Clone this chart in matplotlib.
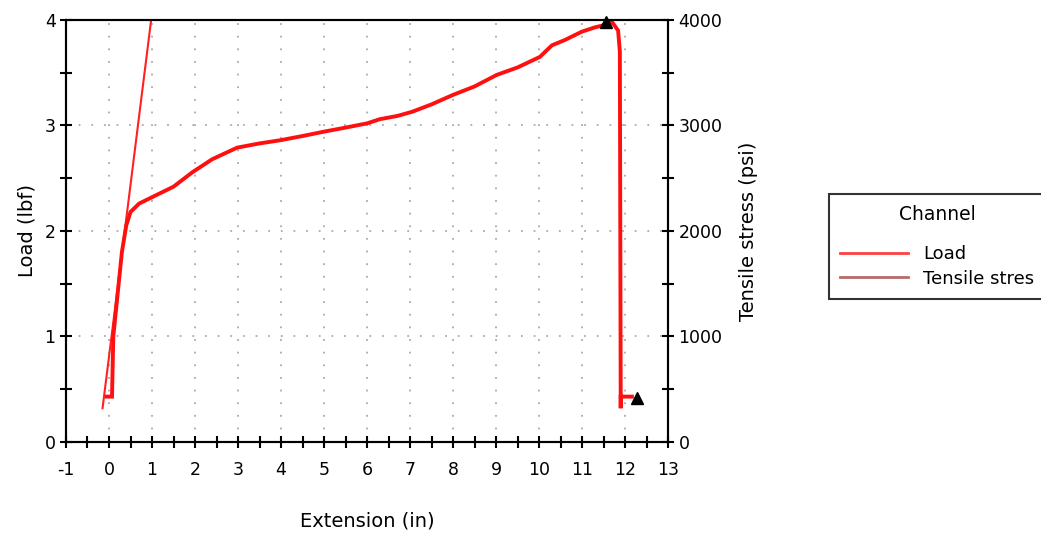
import numpy as np
import matplotlib
matplotlib.use("Agg")
import matplotlib.pyplot as plt
from matplotlib.lines import Line2D
from matplotlib.ticker import MultipleLocator

plt.rcParams['axes.unicode_minus'] = False

# load curve
ext = [-0.05, 0.07, 0.10, 0.20, 0.30, 0.40, 0.50, 0.70, 0.95, 1.20, 1.50, 1.95,
       2.40, 2.98, 3.50, 3.98, 4.50, 4.98, 5.50, 6.00, 6.30, 6.70, 7.05, 7.50,
       8.00, 8.50, 9.02, 9.50, 10.02, 10.30, 10.60, 11.00, 11.30, 11.50, 11.70,
       11.84, 11.88, 11.90, 11.90, 11.90, 12.16]
load = [0.43, 0.43, 1.00, 1.40, 1.80, 2.05, 2.18, 2.26, 2.31, 2.36, 2.42, 2.56,
        2.68, 2.79, 2.83, 2.86, 2.90, 2.94, 2.98, 3.02, 3.06, 3.09, 3.13, 3.20,
        3.29, 3.37, 3.48, 3.55, 3.65, 3.76, 3.81, 3.89, 3.93, 3.95, 3.98,
        3.90, 3.70, 0.40, 0.32, 0.43, 0.43]

# modulus line
mod_x = [-0.15, 0.98]
mod_y = [0.32, 4.0]

# markers
peak_x = [11.55, 12.28]
peak_y = [3.98, 0.42]

fig = plt.figure(figsize=(10.41, 5.36), dpi=100)
ax = fig.add_axes([0.0634, 0.1754, 0.5783, 0.7873])

ax.plot(mod_x, mod_y, color='#ff2020', lw=1.5)
ax.plot(ext, load, color='#ff1010', lw=2.8, solid_joinstyle='miter')
ax.plot(peak_x, peak_y, '^', color='black', ms=9, clip_on=False, zorder=5)

ax.set_xlim(-1, 13)
ax.set_ylim(0, 4)
ax.xaxis.set_major_locator(MultipleLocator(1))
ax.xaxis.set_minor_locator(MultipleLocator(0.5))
ax.yaxis.set_major_locator(MultipleLocator(1))
ax.yaxis.set_minor_locator(MultipleLocator(0.5))
ax.tick_params(which='both', direction='inout', length=8, width=1.5, labelsize=12.5)
ax.tick_params(axis='x', pad=10)
for s in ax.spines.values():
    s.set_linewidth(1.5)

# dotted grid (x from 0 to 12, y at 1,2,3)
for gx in range(0, 13):
    ax.axvline(gx, color='#aaaaaa', lw=1.3, ls=(0, (1, 6)), zorder=0)
for gy in [1, 2, 3]:
    ax.axhline(gy, color='#aaaaaa', lw=1.3, ls=(0, (1, 6)), zorder=0)

ax.set_xlabel('Extension (in)', fontsize=14, labelpad=23)
ax.set_ylabel('Load (lbf)', fontsize=14, labelpad=6)

ax2 = ax.twinx()
ax2.set_ylim(0, 4000)
ax2.yaxis.set_major_locator(MultipleLocator(1000))
ax2.yaxis.set_minor_locator(MultipleLocator(500))
ax2.tick_params(which='both', direction='inout', length=8, width=1.5, labelsize=12.5)
ax2.set_ylabel('Tensile stress (psi)', fontsize=14, labelpad=12)
for s in ax2.spines.values():
    s.set_linewidth(1.5)

handles = [Line2D([], [], color='#ff4040', lw=2),
           Line2D([], [], color='#b86a6a', lw=2)]
leg = fig.legend(handles, ['Load', 'Tensile stres'], title='Channel\n',
                 loc='upper left', bbox_to_anchor=(829 / 1041, 1 - 194 / 536),
                 fontsize=13, title_fontsize=13.5, frameon=True, fancybox=False,
                 edgecolor='black', handlelength=3.8, borderpad=0.6,
                 labelspacing=0.35, handletextpad=0.8, borderaxespad=0)
leg.get_title().set_linespacing(0.75)
leg.get_frame().set_linewidth(1.5)

fig.savefig('out.png', dpi=100)
